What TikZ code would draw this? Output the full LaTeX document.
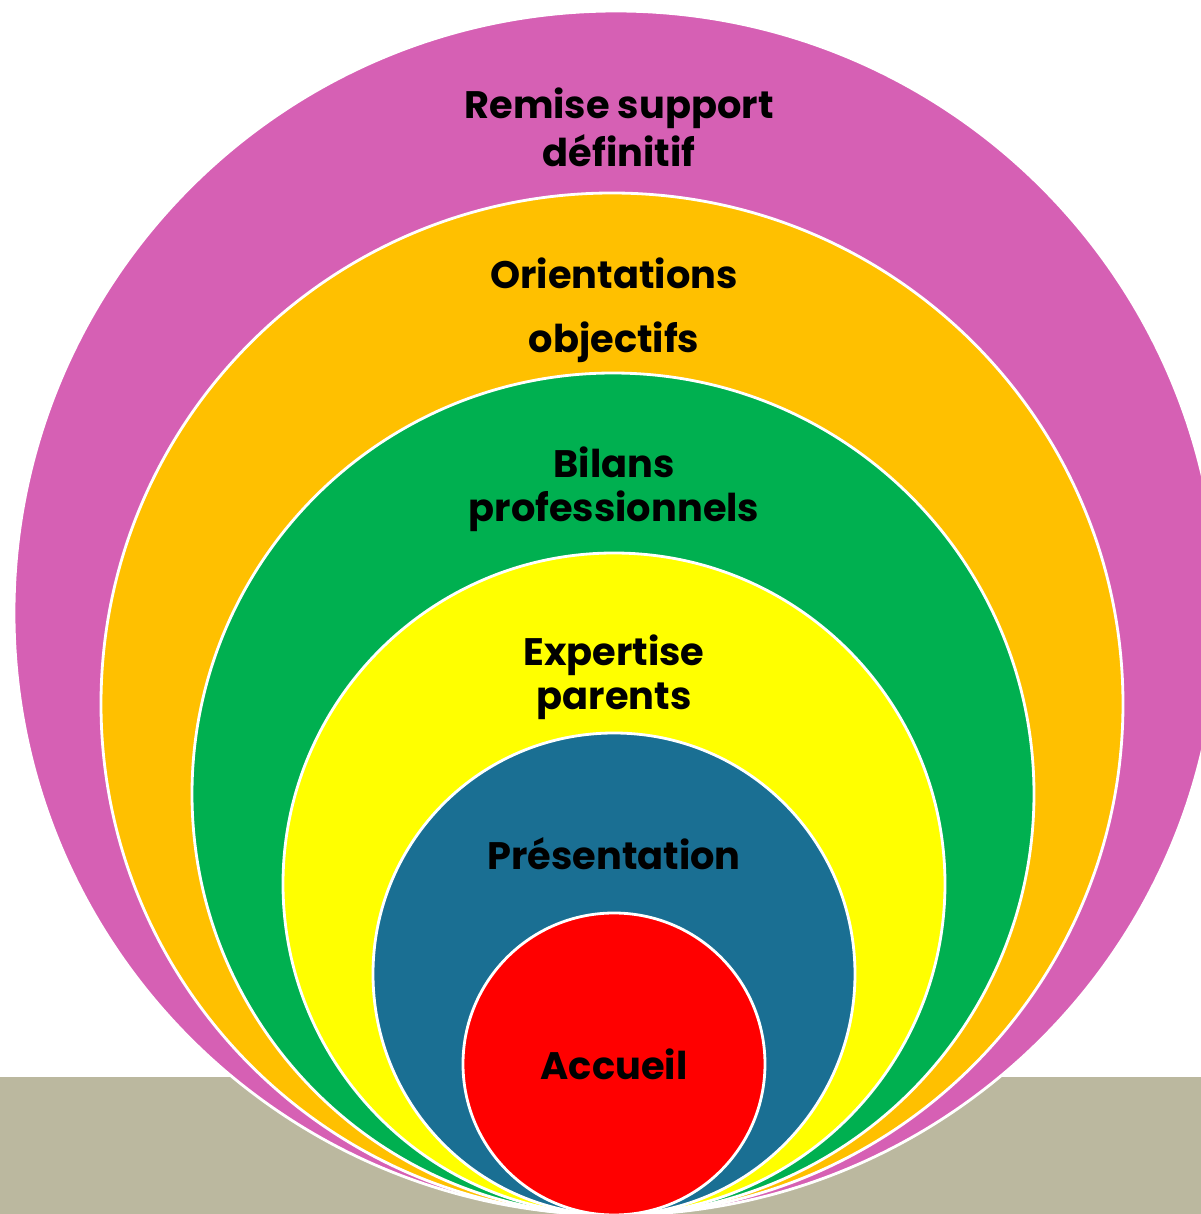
\documentclass[tikz,border=0pt]{standalone}
\usepackage{fontspec}
\setmainfont{Poppins}
\definecolor{ringpink}{HTML}{D660B4}
\definecolor{ringorange}{HTML}{FFC000}
\definecolor{ringgreen}{HTML}{00B050}
\definecolor{ringyellow}{HTML}{FFFF00}
\definecolor{ringblue}{HTML}{1A6F93}
\definecolor{ringred}{HTML}{FF0000}
\definecolor{floor}{HTML}{BBB89F}
\tikzset{
  ring/.style={draw=white, line width=0.8pt},
  ringlabel/.style={font=\bfseries\fontsize{10.9}{#1}\selectfont, align=center, anchor=base, inner sep=0pt}
}
\begin{document}
\begin{tikzpicture}
    \useasboundingbox (0,0) rectangle (12.01,12.14);
    \clip (0,0) rectangle (12.01,12.14);
    \fill[floor] (0,0) rectangle (12.01,1.37);
    % nested rings, all touching at the bottom
    \filldraw[ring, fill=ringpink] (6.16,6.01) circle [radius=6.02];
    \filldraw[ring, fill=ringorange] (6.12,5.10) circle [radius=5.11];
    \filldraw[ring, fill=ringgreen] (6.13,4.20) circle [radius=4.21];
    \filldraw[ring, fill=ringyellow] (6.14,3.30) circle [radius=3.31];
    \filldraw[ring, fill=ringblue] (6.14,2.40) circle [radius=2.41];
    \filldraw[ring, fill=ringred] (6.14,1.50) circle [radius=1.51];
    % labels (base = last line)
    \node[ringlabel=13.9] (remise) at (6.19,10.47) {Remise support\\définitif};
    \node[ringlabel=18.2] (orient) at (6.14,8.62) {Orientations\\objectifs};
    \node[ringlabel=12.8] (bilans) at (6.14,6.92) {Bilans\\professionnels};
    \node[ringlabel=12.5] (expert) at (6.14,5.05) {Expertise\\parents};
    \node[ringlabel=12.5] (present) at (6.14,3.45) {Présentation};
    \node[ringlabel=12.5] (accueil) at (6.14,1.34) {Accueil};
\end{tikzpicture}
\end{document}
